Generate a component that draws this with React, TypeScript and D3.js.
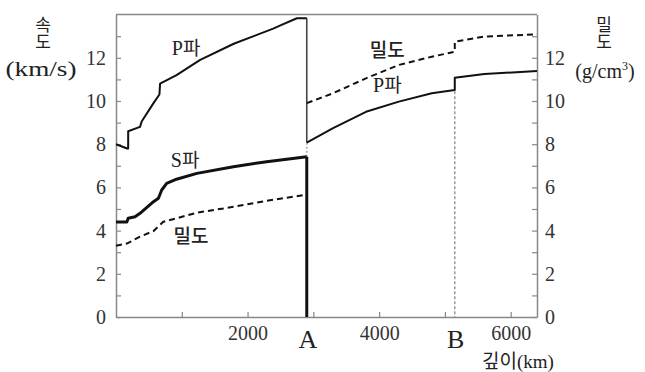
import React, { useEffect, useRef } from "react";
import * as d3 from "d3";

// depth (km), value pairs
const pMantle: [number, number][] = [
  [0, 8.0], [170, 7.8], [185, 7.8], [185, 8.6], [365, 8.8], [390, 9.05],
  [570, 9.9], [660, 10.3], [670, 10.8], [920, 11.2], [1280, 11.9],
  [1790, 12.65], [2390, 13.35], [2500, 13.5], [2750, 13.83], [2900, 13.83],
];
const sMantle: [number, number][] = [
  [0, 4.4], [165, 4.4], [185, 4.57], [290, 4.64], [365, 4.8], [570, 5.34],
  [645, 5.5], [695, 5.88], [770, 6.19], [920, 6.38], [1230, 6.65],
  [1785, 6.96], [2290, 7.19], [2900, 7.42],
];
const rhoMantle: [number, number][] = [
  [0, 3.3], [165, 3.4], [365, 3.72], [570, 3.98], [720, 4.41], [920, 4.57],
  [1230, 4.83], [1785, 5.1], [2290, 5.38], [2900, 5.66],
];
const pCore: [number, number][] = [
  [2900, 8.07], [3300, 8.74], [3800, 9.5], [4300, 9.97], [4800, 10.36],
  [5150, 10.51], [5150, 11.08], [5600, 11.25], [6400, 11.39],
];
const rhoCore: [number, number][] = [
  [2900, 9.9], [3300, 10.36], [3800, 11.05], [4300, 11.67], [4800, 12.05],
  [5150, 12.28], [5150, 12.75], [5600, 12.98], [6400, 13.09],
];

const depthA = 2900;
const depthB = 5150;
const xTicks = [1000, 2000, 3000, 4000, 5000, 6000];
const xLabels = [2000, 4000, 6000];
const yTicks = d3.range(0, 14, 1);

const W = 645, H = 372;
const SERIF = "'Liberation Serif', 'DejaVu Serif', serif";
const KR = "'Noto Sans CJK KR', sans-serif";

export default function App() {
  const ref = useRef<SVGSVGElement>(null);

  useEffect(() => {
    const svg = d3.select(ref.current);
    svg.selectAll("*").remove();

    const x = d3.scaleLinear().domain([0, 6400]).range([116, 537]);
    const y = d3.scaleLinear().domain([0, 14]).range([317, 14.6]);

    const line = d3.line<[number, number]>()
      .x(d => x(d[0]))
      .y(d => y(d[1]));

    // frame top
    svg.append("line")
      .attr("x1", x(0)).attr("x2", x(6400))
      .attr("y1", y(14)).attr("y2", y(14))
      .attr("stroke", "#888").attr("stroke-width", 1.5);

    const styleAxis = (g: any) => {
      g.select(".domain").attr("stroke", "#888").attr("stroke-width", 1.5);
      g.selectAll(".tick line").attr("stroke", "#888").attr("stroke-width", 1.2);
      g.selectAll(".tick text")
        .style("font-family", SERIF).attr("font-size", 20).attr("fill", "#333");
    };

    const evenLabel = (d: any) => (d % 2 === 0 && d <= 12 ? String(d) : "");

    svg.append("g")
      .attr("transform", `translate(${x(0)},0)`)
      .call(d3.axisLeft(y).tickValues(yTicks).tickSize(-5).tickSizeOuter(0)
        .tickPadding(10).tickFormat(evenLabel))
      .call(styleAxis);

    svg.append("g")
      .attr("transform", `translate(${x(6400)},0)`)
      .call(d3.axisRight(y).tickValues(yTicks).tickSize(-5).tickSizeOuter(0)
        .tickPadding(8).tickFormat(evenLabel))
      .call(styleAxis);

    svg.append("g")
      .attr("transform", `translate(0,${y(0)})`)
      .call(d3.axisBottom(x).tickValues(xTicks).tickSize(-5).tickSizeOuter(0)
        .tickPadding(9).tickFormat((d: any) => (xLabels.includes(d) ? String(d) : "")))
      .call(styleAxis);

    // boundary labels A and B
    [["A", depthA], ["B", depthB]].forEach(([t, d]) => {
      svg.append("text")
        .attr("x", x(d as number) + 1).attr("y", 348)
        .attr("text-anchor", "middle")
        .style("font-family", SERIF).attr("font-size", 26).attr("fill", "#222")
        .text(t as string);
    });

    // B boundary dashed line
    svg.append("line")
      .attr("x1", x(depthB)).attr("x2", x(depthB))
      .attr("y1", y(10.45)).attr("y2", y(0))
      .attr("stroke", "#999").attr("stroke-width", 1.5)
      .attr("stroke-dasharray", "3,2");

    // A boundary: thin drop of P, faint gap, thick S drop
    svg.append("line")
      .attr("x1", x(depthA)).attr("x2", x(depthA))
      .attr("y1", y(13.83)).attr("y2", y(8.07))
      .attr("stroke", "#444").attr("stroke-width", 1.6);
    svg.append("line")
      .attr("x1", x(depthA)).attr("x2", x(depthA))
      .attr("y1", y(8.07)).attr("y2", y(7.42))
      .attr("stroke", "#aaa").attr("stroke-width", 1.5)
      .attr("stroke-dasharray", "2,2");
    svg.append("line")
      .attr("x1", x(depthA)).attr("x2", x(depthA))
      .attr("y1", y(7.42)).attr("y2", y(0))
      .attr("stroke", "#111").attr("stroke-width", 3);

    const solid = [[pMantle, 2], [sMantle, 3], [pCore, 2]] as const;
    solid.forEach(([data, w]) => {
      svg.append("path")
        .datum(data as any)
        .attr("d", line as any)
        .attr("fill", "none").attr("stroke", "#111")
        .attr("stroke-width", w).attr("stroke-linejoin", "round");
    });

    [rhoMantle, rhoCore].forEach(data => {
      svg.append("path")
        .datum(data)
        .attr("d", line)
        .attr("fill", "none").attr("stroke", "#111")
        .attr("stroke-width", 2).attr("stroke-dasharray", "6,4");
    });

    // curve labels
    const waveLabel = (letter: string, d: number, v: number) => {
      const t = svg.append("text")
        .attr("x", x(d)).attr("y", y(v) + 7)
        .attr("text-anchor", "middle")
        .attr("font-size", 19).attr("fill", "#222");
      t.append("tspan").style("font-family", SERIF).attr("font-size", 20).text(letter);
      t.append("tspan").style("font-family", KR).text("파");
    };
    const rhoLabel = (d: number, v: number) => {
      svg.append("text")
        .attr("x", x(d)).attr("y", y(v) + 7)
        .attr("text-anchor", "middle")
        .style("font-family", KR).attr("font-size", 19).attr("font-weight", 500)
        .attr("fill", "#222")
        .text("밀도");
    };
    waveLabel("P", 1065, 12.45);
    waveLabel("S", 1050, 7.27);
    rhoLabel(1140, 3.75);
    rhoLabel(4125, 12.36);
    waveLabel("P", 4125, 10.74);

    // axis titles
    const title = (s: string, cx: number, by: number, fam: string, size: number) =>
      svg.append("text").attr("x", cx).attr("y", by)
        .attr("text-anchor", "middle").style("font-family", fam)
        .attr("font-size", size).attr("fill", "#222").text(s);

    // vertical two-syllable titles, written top to bottom
    const vertical = (s: string, cx: number, top: number) =>
      svg.append("text").attr("x", cx).attr("y", top)
        .style("writing-mode", "vertical-rl").style("text-orientation", "upright")
        .style("font-family", KR).attr("font-size", 17).attr("fill", "#222")
        .text(s);

    vertical("속도", 43, 16);
    title("(km/s)", 41, 76, SERIF, 20)
      .attr("textLength", 71).attr("lengthAdjust", "spacingAndGlyphs");

    vertical("밀도", 604, 16);
    const gcm = title("", 605, 78, SERIF, 20);
    gcm.append("tspan").text("(g/cm");
    gcm.append("tspan").attr("font-size", 12).attr("dy", -8).text("3");
    gcm.append("tspan").attr("dy", 8).text(")");

    const depthTitle = svg.append("text")
      .attr("x", 518).attr("y", 368).attr("text-anchor", "middle")
      .attr("font-size", 19).attr("fill", "#222");
    depthTitle.append("tspan").style("font-family", KR).text("깊이");
    depthTitle.append("tspan").style("font-family", SERIF).text("(km)");
  }, []);

  return (
    <svg
      ref={ref}
      width={W}
      height={H}
      style={{ position: "absolute", left: 0, top: 0, background: "#fff" }}
    />
  );
}
